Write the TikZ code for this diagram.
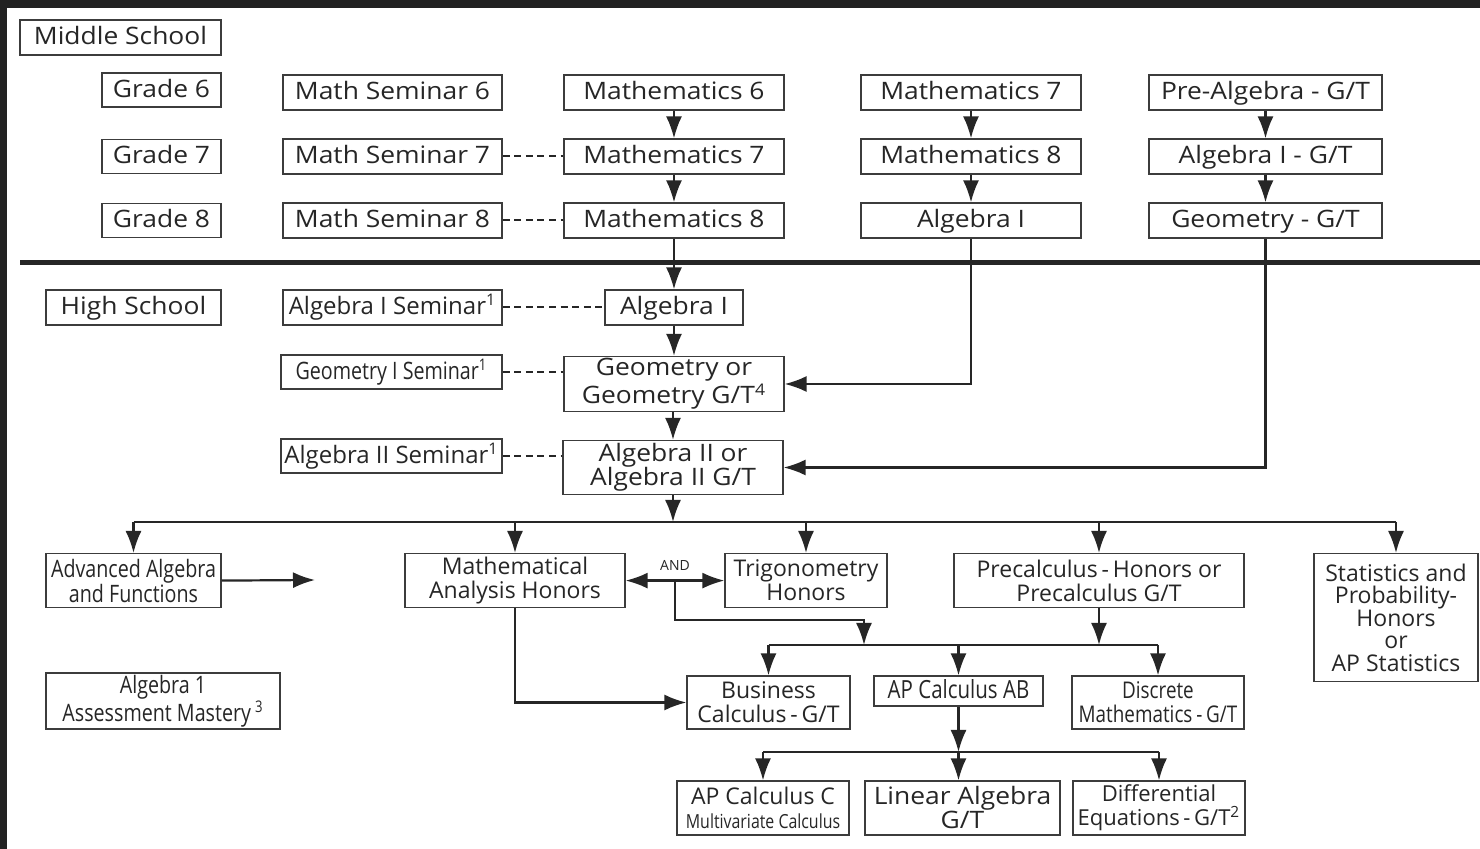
\documentclass[tikz,border=0pt]{standalone}
\usepackage{fontspec}
\setmainfont{Open Sans}
\newfontfamily\widefont[FakeStretch=1.1]{Open Sans}
\newfontfamily\narrowfont[FakeStretch=0.82]{Open Sans}
\usetikzlibrary{arrows.meta,calc}

\definecolor{ink}{HTML}{262626}
\definecolor{boxline}{HTML}{3C3C3C}
\definecolor{frame}{HTML}{222222}

\tikzset{
  box/.style={draw=boxline, line width=0.6pt, inner sep=1pt, align=center, text=ink,
    font=\fontsize{11.5}{12}\selectfont},
  widebox/.style={box, font=\widefont\fontsize{12}{12}\selectfont},
  narrowbox/.style={box, font=\narrowfont\fontsize{12}{12.5}\selectfont},
  oneline/.style={text height=0.72em, text depth=0em},
  link/.style={draw=ink, line width=1.1pt, -{Latex[length=11pt,width=8pt]}},
  bus/.style={draw=ink, line width=1.1pt},
  dashlink/.style={draw=ink, line width=1pt, dash pattern=on 3.5pt off 2.3pt},
}

\begin{document}
\begin{tikzpicture}[x=0.5pt,y=-0.5pt]

\useasboundingbox (0,0) rectangle (1480,849);
\fill[frame] (0,0) rectangle (1480,849);
\fill[white] (7,8) rectangle (1480,849);

% Middle school
\node[widebox, oneline, minimum width=100.5pt, minimum height=17.5pt] (mid) at (120.5,37.5) {Middle School};
\foreach \g/\y in {6/90,7/156.5,8/220.5} {
  \node[widebox, oneline, minimum width=59.5pt, minimum height=17pt] (gr\g) at (161.5,\y) {Grade \g};
}
\foreach \g/\y in {6/92.5,7/156.5,8/220.5} {
  \node[widebox, oneline, minimum width=109.5pt, minimum height=17.5pt] (sem\g) at (392.5,\y) {Math Seminar \g};
  \node[widebox, oneline, minimum width=110pt, minimum height=17.5pt] (ma\g) at (674,\y) {Mathematics \g};
}
\node[widebox, oneline, minimum width=110pt, minimum height=17.5pt] (mb7) at (971,92.5) {Mathematics 7};
\node[widebox, oneline, minimum width=110pt, minimum height=17.5pt] (mb8) at (971,156.5) {Mathematics 8};
\node[widebox, oneline, minimum width=110pt, minimum height=17.5pt] (alga) at (971,220.5) {Algebra I};
\node[widebox, oneline, minimum width=116.5pt, minimum height=17.5pt] (pre) at (1265.5,92.5) {Pre-Algebra - G/T};
\node[widebox, oneline, minimum width=116.5pt, minimum height=17.5pt] (algt) at (1265.5,156.5) {Algebra I - G/T};
\node[widebox, oneline, minimum width=116.5pt, minimum height=17.5pt] (geot) at (1265.5,220.5) {Geometry - G/T};

% Trennlinie
\coordinate (divL) at (20,263);
\coordinate (divR) at (1480,263);
\draw[ink, line width=2.5pt] (divL) -- (divR);

% High school
\node[widebox, oneline, minimum width=87.5pt, minimum height=17.5pt] (high) at (133.5,307.5) {High School};
\node[box, oneline, font=\fontsize{12}{12}\selectfont, minimum width=109.5pt, minimum height=17.5pt] (asem) at (392.5,307.5) {Algebra I Seminar\textsuperscript{1}};
\node[widebox, oneline, minimum width=69pt, minimum height=17.5pt] (alg1) at (674,307.5) {Algebra I};
\node[narrowbox, oneline, minimum width=110.5pt, minimum height=17pt] (gsem) at (391.5,372) {Geometry I Seminar\textsuperscript{1}};
\node[widebox, minimum width=110pt, minimum height=27pt] (geo) at (674,384) {Geometry or\\Geometry G/T\textsuperscript{4}};
\node[box, oneline, font=\fontsize{12}{12}\selectfont, minimum width=110.5pt, minimum height=17pt] (bsem) at (391.5,456) {Algebra II Seminar\textsuperscript{1}};
\node[widebox, minimum width=110pt, minimum height=27pt] (alg2) at (673,467.5) {Algebra II or\\Algebra II G/T};

\node[narrowbox, minimum width=87.5pt, minimum height=27pt, anchor=north] (adv) at (133.5,553) {Advanced Algebra\\and Functions};
\node[box, minimum width=110pt, minimum height=27pt, anchor=north] (mah) at (515,553) {Mathematical\\Analysis Honors};
\node[box, minimum width=81pt, minimum height=27pt, anchor=north] (trig) at (806,553) {Trigonometry\\Honors};
\node[box, minimum width=145pt, minimum height=27pt, anchor=north] (prec) at (1099,553) {Precalculus\,-\,Honors or\\Precalculus G/T};
\node[box, font=\fontsize{11.5}{11.3}\selectfont, minimum width=82pt, minimum height=64pt, anchor=north] (stat) at (1396,553)
  {Statistics and\\Probability-\\Honors\\or\\AP Statistics};

\node[narrowbox, minimum width=117pt, minimum height=27pt] (mast) at (163,701) {Algebra 1\\Assessment Mastery\,\textsuperscript{3}};
\node[box, minimum width=81.5pt, minimum height=26.5pt] (biz) at (768.5,702.5) {Business\\Calculus\,-\,G/T};
\node[narrowbox, oneline, font=\narrowfont\fontsize{12.5}{12.5}\selectfont, minimum width=84.5pt, minimum height=15pt] (apab) at (958.5,691) {AP Calculus AB};
\node[narrowbox, font=\narrowfont\fontsize{11.5}{12}\selectfont, minimum width=86pt, minimum height=26.5pt] (disc) at (1158,702.5) {Discrete\\Mathematics\,-\,G/T};

\node[box, minimum width=86pt, minimum height=27pt] (apc) at (763,808)
  {AP Calculus C\\{\narrowfont\fontsize{9.7}{10}\selectfont Multivariate Calculus}};
\node[widebox, minimum width=97.5pt, minimum height=27pt] (lin) at (962.5,808) {Linear Algebra\\G/T};
\node[box, font=\fontsize{11}{12}\selectfont, minimum width=86pt, minimum height=27pt] (deq) at (1159,808) {Differential\\Equations\,-\,G/T\textsuperscript{2}};

% Pfeile Mittelstufe
\draw[link] (ma6) -- (ma7);
\draw[link] (ma7) -- (ma8);
\draw[link] (ma8) -- (alg1);
\draw[link] (mb7) -- (mb8);
\draw[link] (mb8) -- (alga);
\draw[link] (pre) -- (algt);
\draw[link] (algt) -- (geot);
\draw[dashlink] (sem7) -- (ma7);
\draw[dashlink] (sem8) -- (ma8);

% Pfeile Oberstufe
\draw[dashlink] (asem) -- (alg1);
\draw[dashlink] (gsem.east) -- (gsem.east -| geo.west);
\draw[dashlink] (bsem.east) -- (bsem.east -| alg2.west);
\draw[link] (alg1) -- (geo);
\draw[link] (geo.south -| alg2.north) -- (alg2.north);
\draw[link] (alga.south) |- (geo.east);
\draw[link] (geot.south) |- (alg2.east);

\coordinate (b1) at (673,522);
\draw[link] (alg2.south) -- (b1);
\draw[bus] (adv.north |- b1) -- (stat.north |- b1);
\foreach \n in {adv,mah,trig,prec,stat} {
  \draw[link] (\n.north |- b1) -- (\n.north);
}

\coordinate (advend) at (315,580);
\draw[link] (adv.east) -- (advend);
\draw[link, {Latex[length=11pt,width=8pt]}-{Latex[length=11pt,width=8pt]}] (mah.east) -- (trig.west)
  node[midway, above=1pt, text=ink, font=\fontsize{7}{7}\selectfont] {AND};

\coordinate (andc) at ($(mah.east)!0.5!(trig.west)$);
\coordinate (andturn) at (864,620);
\coordinate (b2) at (864,645);
\draw[link] (andc) |- (andturn) -- (b2);
\draw[link] (prec.south) -- (prec.south |- b2);
\draw[bus] (biz.north |- b2) -- (disc.north |- b2);
\foreach \n in {biz,apab,disc} {
  \draw[link] (\n.north |- b2) -- (\n.north);
}
\draw[link] (mah.south) |- (biz.west);

\coordinate (b3) at (958.5,752);
\draw[link] (apab.south) -- (b3);
\draw[bus] (apc.north |- b3) -- (deq.north |- b3);
\draw[link] (apc.north |- b3) -- (apc.north);
\draw[link] (b3) -- (b3 |- lin.north);
\draw[link] (deq.north |- b3) -- (deq.north);

\end{tikzpicture}
\end{document}
